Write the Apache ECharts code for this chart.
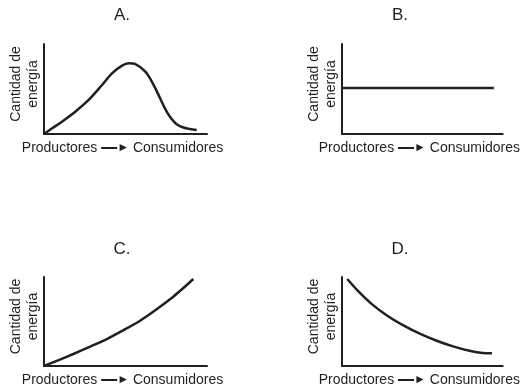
<!DOCTYPE html>
<html><head><meta charset="utf-8">
<script src="https://cdn.jsdelivr.net/npm/echarts@6/dist/echarts.min.js"></script>
<style>html,body{margin:0;padding:0;background:#fff}#c{width:527px;height:389px}</style>
</head><body><div id="c"></div>
<script>
var panelTitles = ['A.', 'B.', 'C.', 'D.'];
var yAxisName = 'Cantidad de\nenergía';
var xFrom = 'Productores';
var xTo = 'Consumidores';

var aX = [0, 5, 11, 19, 27.4, 35.6, 41.7, 47.9, 52, 55.8, 62, 66.1, 70.1, 74.2, 77.5, 81, 85.5, 89.5, 93.7];
var aY = [0, 6.3, 13.7, 24.5, 37.8, 54.4, 67.4, 75.9, 78.6, 77.8, 69.5, 58.5, 44, 28.5, 18.5, 11.5, 7.2, 5.5, 4.4];
var bX = [0, 94.5];
var bY = [51.1, 51.1];
var cX = [0, 9, 18, 28, 38.5, 48.5, 58.9, 69.1, 79.3, 85.5, 91.6];
var cY = [0, 6.6, 13.5, 21.5, 30.3, 40, 50.9, 63.8, 77.9, 87.6, 97.8];
var dX = [3.3, 9.8, 18, 28.2, 38.5, 48.7, 58.9, 69.1, 79.3, 87.5, 93.3];
var dY = [97.8, 84.6, 70.4, 56.5, 45.3, 36, 28.4, 22.1, 17.2, 14.6, 14.3];

var seriesX = [aX, bX, cX, dX];
var seriesY = [aY, bY, cY, dY];
var smoothFlags = [0.3, false, 0.3, 0.3];

var FONT = '"Liberation Sans", Arial, sans-serif';
var INK = '#231f20';
var grids = [
  {left: 44, top: 44, width: 163, height: 90},
  {left: 342, top: 44, width: 163, height: 90},
  {left: 44, top: 277, width: 163, height: 89},
  {left: 342, top: 277, width: 163, height: 89}
];
var titlePos = [[122, 7], [400, 7], [122, 241], [400, 241]];

var option = {
  animation: false,
  backgroundColor: '#fff',
  title: [], grid: [], xAxis: [], yAxis: [], series: []
};
for (var i = 0; i < 4; i++) {
  option.title.push({
    text: panelTitles[i], left: titlePos[i][0], top: titlePos[i][1], textAlign: 'center', padding: 0,
    textStyle: {fontFamily: FONT, fontSize: 17, fontWeight: 'normal', color: INK}
  });
  option.grid.push(grids[i]);
  option.xAxis.push({
    type: 'value', gridIndex: i, min: 0, max: 100,
    axisLine: {show: true, onZero: false, lineStyle: {color: INK, width: 2}},
    axisTick: {show: false}, axisLabel: {show: false}, splitLine: {show: false},
    name: xFrom + ' {ln| }{hd|►} ' + xTo + '{gap| }', nameLocation: 'middle', nameGap: 7,
    nameTextStyle: {
      fontFamily: FONT, fontSize: 14, color: INK,
      rich: {
        ln: {width: 16, height: 2, backgroundColor: INK, verticalAlign: 'middle'},
        hd: {fontFamily: FONT, fontSize: 12, color: INK, verticalAlign: 'middle'},
        gap: {width: 6}
      }
    }
  });
  option.yAxis.push({
    type: 'value', gridIndex: i, min: 0, max: 100,
    axisLine: {show: true, onZero: false, lineStyle: {color: INK, width: 2}},
    axisTick: {show: false}, axisLabel: {show: false}, splitLine: {show: false},
    name: yAxisName, nameLocation: 'middle', nameGap: 2, nameRotate: 90,
    nameTextStyle: {fontFamily: FONT, fontSize: 14, color: INK, lineHeight: 17, align: 'center', padding: [0, 0, 0, 10]}
  });
  var pts = [];
  for (var k = 0; k < seriesX[i].length; k++) pts.push([seriesX[i][k], seriesY[i][k]]);
  option.series.push({
    type: 'line', xAxisIndex: i, yAxisIndex: i, data: pts, smooth: smoothFlags[i],
    symbol: 'none', lineStyle: {color: INK, width: 2.5}
  });
}
var chart = echarts.init(document.getElementById('c'), null, {renderer: 'canvas'});
chart.setOption(option);
</script>
</body></html>
